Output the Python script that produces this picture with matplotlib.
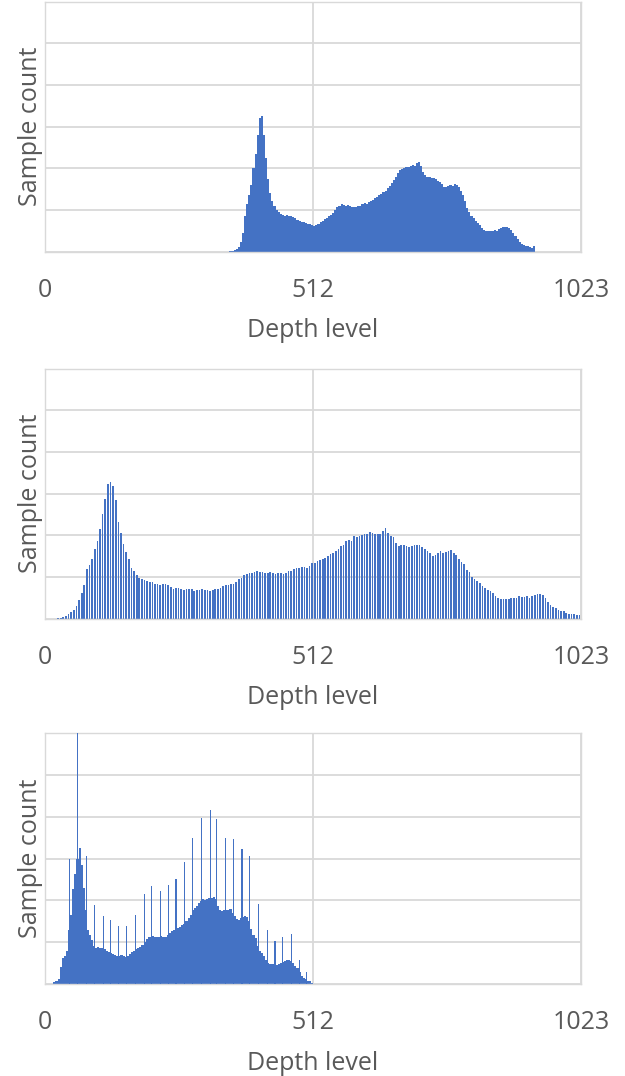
import numpy as np
import matplotlib
matplotlib.use("Agg")
import matplotlib.pyplot as plt

# ---------------------------------------------------------------------------
# Depth histograms (counts in arbitrary units; grid step = 100)
# ---------------------------------------------------------------------------
x_ticks = [0, 512, 1023]
x_tick_labels = ["0", "512", "1023"]
x_label = "Depth level"
y_label = "Sample count"

# Histogram A: 4-level bins starting at depth level 352
hist_a_start = 352
hist_a_bin = 4
hist_a_counts = [
    1, 2, 4, 7, 12, 24, 45, 85, 115, 135, 160, 200, 235, 280, 320, 326,
    280, 225, 175, 140, 122, 110, 100, 95, 90, 88, 86, 88, 85, 86, 82, 80,
    76, 74, 72, 70, 69, 67, 66, 64, 62, 63, 66, 70, 74, 78, 81, 85,
    88, 93, 100, 106, 110, 113, 112, 110, 111, 109, 107, 106, 108, 110, 109, 113,
    116, 115, 119, 122, 124, 128, 131, 135, 138, 142, 146, 152, 158, 165, 172, 178,
    188, 195, 198, 200, 204, 202, 205, 208, 206, 212, 214, 205, 192, 183, 178, 180,
    176, 177, 174, 170, 168, 162, 156, 154, 157, 160, 158, 162, 160, 154, 146, 135,
    122, 105, 94, 86, 80, 74, 68, 63, 57, 52, 50, 49, 50, 49, 51, 50,
    54, 56, 58, 60, 59, 57, 51, 44, 37, 30, 23, 18, 15, 14, 13, 11,
    8, 14,
]

# Histogram B: sparse levels, one occupied level every 5 starting at 25
hist_b_start = 25
hist_b_step = 5
hist_b_counts = [
    1, 2, 4, 7, 10, 15, 21, 30, 45, 62, 80, 118, 128, 142, 168, 186,
    215, 250, 288, 324, 328, 318, 285, 232, 205, 180, 160, 144, 122, 114, 104, 98,
    95, 93, 89, 88, 87, 84, 82, 80, 83, 82, 80, 75, 72, 74, 73, 72,
    69, 70, 71, 72, 67, 69, 68, 70, 69, 68, 67, 69, 70, 70, 74, 78,
    80, 81, 83, 84, 88, 94, 98, 105, 108, 110, 109, 112, 114, 112, 111, 110,
    109, 111, 110, 108, 110, 109, 108, 110, 113, 114, 118, 121, 122, 124, 124, 122,
    125, 133, 134, 138, 140, 142, 145, 150, 154, 157, 163, 168, 174, 177, 186, 188,
    186, 198, 196, 198, 200, 202, 204, 208, 206, 203, 202, 204, 210, 217, 205, 198,
    196, 182, 174, 177, 176, 174, 171, 175, 177, 177, 176, 172, 166, 161, 157, 150,
    153, 157, 161, 158, 160, 162, 164, 158, 152, 142, 136, 130, 116, 111, 100, 95,
    90, 85, 79, 73, 69, 66, 61, 54, 50, 47, 46, 47, 48, 49, 49, 49,
    53, 51, 52, 54, 50, 55, 57, 58, 58, 57, 50, 40, 33, 28, 25, 21,
    19, 17, 14, 12, 12, 11, 9, 8,
]

# Histogram C: 4-level bins starting at level 16, plus isolated spike levels
hist_c_start = 16
hist_c_bin = 4
hist_c_counts = [
    5, 8, 12, 40, 63, 68, 80, 128, 165, 228, 262, 300, 326, 285, 230, 176,
    130, 118, 106, 92, 86, 88, 85, 86, 84, 80, 77, 73, 72, 70, 68, 66,
    69, 66, 64, 68, 71, 76, 80, 83, 85, 89, 94, 101, 107, 113, 112, 114,
    113, 112, 113, 114, 112, 113, 117, 121, 126, 128, 131, 135, 137, 140, 144, 150,
    157, 166, 176, 182, 187, 194, 199, 202, 200, 203, 206, 205, 207, 204, 186, 176,
    175, 178, 176, 177, 179, 170, 162, 156, 154, 158, 160, 162, 161, 150, 132, 118,
    110, 92, 80, 73, 67, 58, 50, 48, 48, 47, 46, 48, 50, 53, 55, 57,
    58, 55, 50, 44, 38, 28, 19, 14, 11, 8, 6, 3,
]
spike_levels = [46, 62, 80, 95, 111, 125, 141, 156, 172, 189, 204, 220, 235, 250, 266,
                282, 299, 315, 328, 344, 360, 376, 391, 408, 424, 439, 454, 470, 485, 500]
spike_counts = [300, 700, 306, 188, 162, 152, 138, 138, 164, 214, 234, 222, 237, 252, 292,
                348, 396, 416, 394, 350, 346, 322, 306, 192, 130, 102, 112, 120, 58, 28]

# ---------------------------------------------------------------------------
BAR = "#4472C4"
GRID = "#d9d9d9"
TEXT = "#595959"
FONT = ["Open Sans", "DejaVu Sans"]
FS = 18

plt.rcParams["font.family"] = FONT

fig = plt.figure(figsize=(6.25, 10.76), dpi=100)
W, H = 625, 1076
left_px, right_px = 45, 581
panel_px = [(1.5, 251.5), (368.5, 618.5), (733, 984)]

axes = []
for top, bottom in panel_px:
    ax = fig.add_axes([left_px / W, 1 - bottom / H,
                       (right_px - left_px) / W, (bottom - top) / H])
    axes.append(ax)


def style(ax):
    ax.set_xlim(0, 1023)
    ax.set_ylim(0, 600)
    ax.set_yticks(np.arange(0, 601, 100))
    ax.set_yticklabels([])
    ax.tick_params(axis="y", length=0)
    ax.set_xticks(x_ticks)
    ax.set_xticklabels(x_tick_labels)
    ax.tick_params(axis="x", length=0, pad=19, labelsize=FS, labelcolor=TEXT)
    ax.grid(True, color=GRID, linewidth=1.3, zorder=0)
    ax.set_axisbelow(True)
    for s in ax.spines.values():
        s.set_color(GRID)
        s.set_linewidth(1.0)
    ax.set_xlabel(x_label, fontsize=FS, color=TEXT, labelpad=11)
    ax.set_ylabel(y_label, fontsize=FS, color=TEXT, labelpad=-2)


# Panel A
ax = axes[0]
edges_a = hist_a_start + hist_a_bin * np.arange(len(hist_a_counts) + 1)
ax.stairs(hist_a_counts, edges_a, fill=True, color=BAR, zorder=2)
style(ax)

# Panel B
ax = axes[1]
levels_b = hist_b_start + hist_b_step * np.arange(len(hist_b_counts))
ax.bar(levels_b, hist_b_counts, width=3.2, color=BAR, linewidth=0, zorder=2)
style(ax)

# Panel C
ax = axes[2]
edges_c = hist_c_start + hist_c_bin * np.arange(len(hist_c_counts) + 1)
ax.stairs(hist_c_counts, edges_c, fill=True, color=BAR, zorder=2)
ax.bar(spike_levels, spike_counts, width=2.0, color=BAR, linewidth=0, zorder=3)
style(ax)

fig.savefig("out.png", dpi=100)
